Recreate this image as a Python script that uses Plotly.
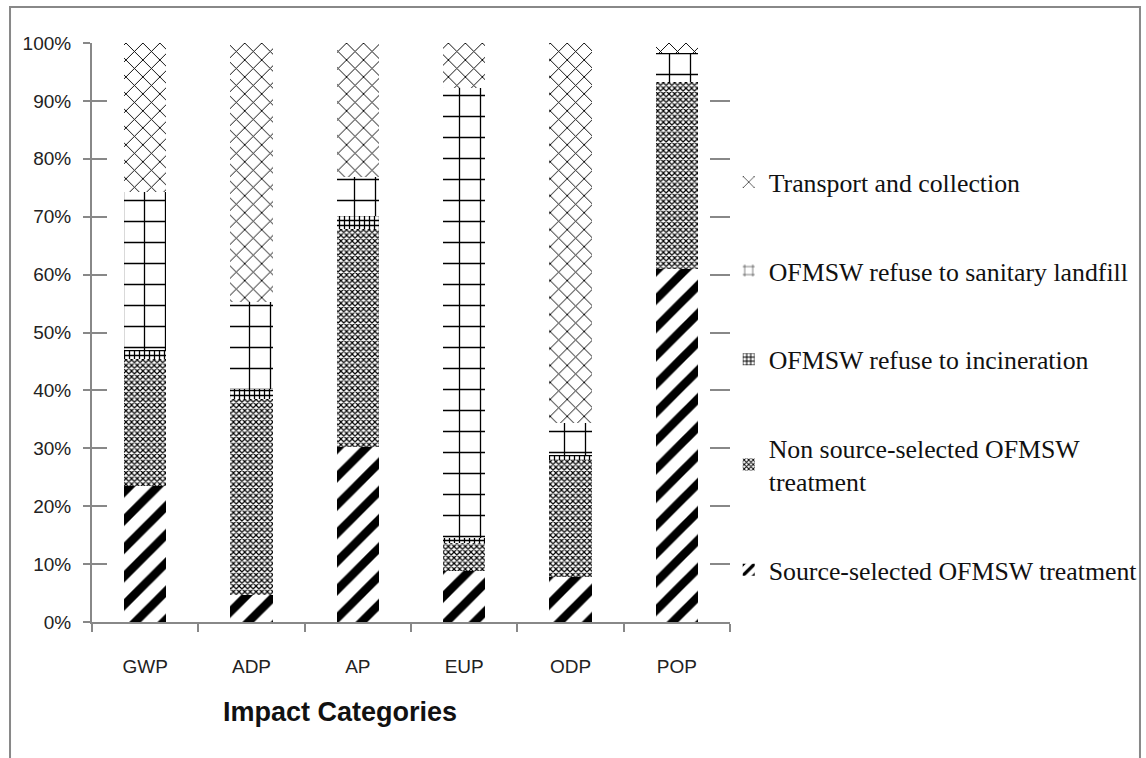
import plotly.graph_objects as go

# Impact categories on the x axis
categories = ["GWP", "ADP", "AP", "EUP", "ODP", "POP"]

# Share of each life-cycle stage per impact category (percent of total)
source_selected = [23.5, 4.7, 30.2, 8.8, 7.8, 61.0]
non_source_selected = [21.9, 33.8, 37.7, 4.8, 20.2, 32.3]
refuse_incineration = [1.6, 1.7, 2.2, 0.9, 0.8, 0.0]
refuse_landfill = [27.3, 15.1, 6.8, 77.7, 5.6, 5.0]
transport_collection = [25.7, 44.7, 23.1, 7.8, 65.6, 1.7]

series = [
    ("Source-selected OFMSW treatment", source_selected,
     dict(shape="/", size=20, solidity=0.42)),
    ("Non source-selected OFMSW<br>treatment", non_source_selected,
     dict(shape="x", size=4, solidity=0.5)),
    ("OFMSW refuse to incineration", refuse_incineration,
     dict(shape="+", size=5, solidity=0.45)),
    ("OFMSW refuse to sanitary landfill", refuse_landfill,
     dict(shape="+", size=21, solidity=0.12)),
    ("Transport and collection", transport_collection,
     dict(shape="x", size=12, solidity=0.15)),
]

fig = go.Figure()
for i, (name, vals, pat) in enumerate(series):
    fig.add_trace(go.Bar(
        x=categories,
        y=[v / 100 for v in vals],
        name=name,
        width=0.4,
        legendgroup=f"g{i}",
        legendrank=len(series) - i,
        marker=dict(
            color="white",
            line=dict(width=0),
            pattern=dict(fgcolor="black", bgcolor="white", fgopacity=1,
                         fillmode="replace", **pat),
        ),
    ))

grey = "#888888"
tick_font = dict(family="Liberation Sans, Arial, sans-serif", size=19, color="#222222")

fig.update_layout(
    width=1146,
    height=758,
    barmode="stack",
    paper_bgcolor="white",
    plot_bgcolor="white",
    margin=dict(l=92, r=416, t=43, b=136, autoexpand=False),
    showlegend=True,
    legend=dict(
        x=0.998, xanchor="left",
        y=0.8, yanchor="top",
        traceorder="grouped",
        tracegroupgap=52,
        font=dict(family="Liberation Serif, Times New Roman, serif", size=25.8, color="#111111"),
        bgcolor="rgba(0,0,0,0)",
        itemwidth=30,
    ),
    xaxis=dict(
        showline=True, linecolor=grey, linewidth=2,
        ticks="outside", ticklen=8, tickcolor=grey, tickwidth=1.5,
        tickson="boundaries",
        tickfont=tick_font,
        ticklabelstandoff=26,
        showgrid=False,
        range=[-0.5, 5.5],
    ),
    yaxis=dict(
        range=[0, 1],
        tickvals=[i / 10 for i in range(11)],
        tickformat=".0%",
        showline=True, linecolor=grey, linewidth=2,
        ticks="outside", ticklen=7, tickcolor=grey, tickwidth=2,
        tickfont=tick_font,
        ticklabelstandoff=8,
        showgrid=False, zeroline=False,
    ),
    # inner half of the crossing tick marks on the value axis
    yaxis2=dict(
        overlaying="y", side="left", matches="y",
        tickvals=[i / 10 for i in range(11)],
        ticks="inside", ticklen=15, tickcolor=grey, tickwidth=2,
        showticklabels=False, showgrid=False, showline=False, zeroline=False,
    ),
    # short marks along the right edge of the plot area
    yaxis3=dict(
        overlaying="y", side="right", matches="y",
        tickvals=[i / 10 for i in range(1, 11)],
        ticks="inside", ticklen=20, tickcolor=grey, tickwidth=2,
        showticklabels=False, showgrid=False, showline=False, zeroline=False,
    ),
)

# dummy traces to activate the extra tick axes
fig.add_trace(go.Scatter(x=categories, y=[None] * 6, yaxis="y2", showlegend=False, hoverinfo="skip"))
fig.add_trace(go.Scatter(x=categories, y=[None] * 6, yaxis="y3", showlegend=False, hoverinfo="skip"))

# category axis title
fig.add_annotation(
    text="<b>Impact Categories</b>", xref="paper", yref="paper",
    x=0.389, y=-0.155, showarrow=False, xanchor="center", yanchor="middle",
    font=dict(family="Liberation Sans, Arial, sans-serif", size=27, color="#111111"),
)

# chart frame
fig.add_shape(type="rect", xref="paper", yref="paper",
              x0=-0.1285, x1=1.6426, y0=-0.3, y1=1.0622,
              line=dict(color=grey, width=2), fillcolor="rgba(0,0,0,0)", layer="below")

fig.write_html("out.html")
